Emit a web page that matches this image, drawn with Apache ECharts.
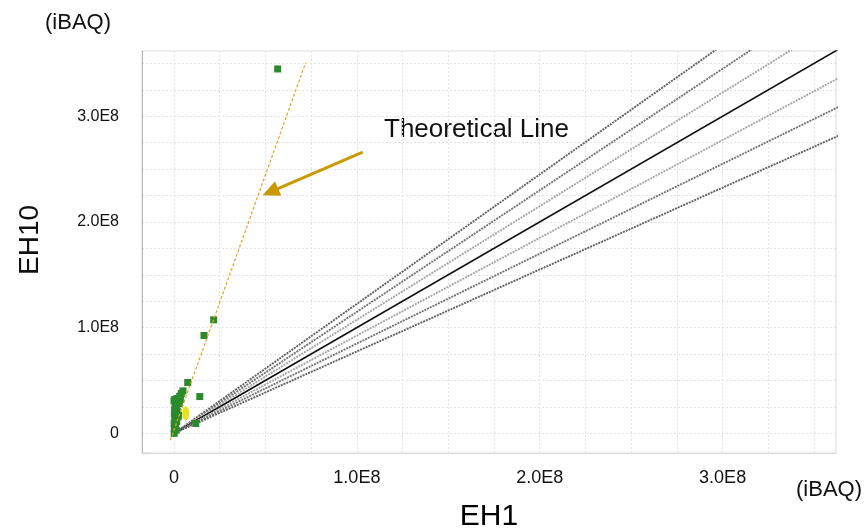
<!DOCTYPE html>
<html>
<head>
<meta charset="utf-8">
<script src="https://cdn.jsdelivr.net/npm/echarts@6/dist/echarts.min.js"></script>
<style>
  html, body { margin: 0; padding: 0; background: #fff; }
  #chart { width: 866px; height: 531px; }
</style>
</head>
<body>
<div id="chart"></div>
<script>
// EH1 vs EH10 (iBAQ) scatter
const proteinPoints = [
  [4.9e6, 4.02e7], [4.0e6, 3.77e7], [3.1e6, 3.51e7], [1.6e6, 3.30e7], [4e5, 3.20e7],
  [0, 3.07e7], [2.2e6, 2.97e7], [1.3e6, 2.66e7], [9e5, 2.44e7], [4e5, 2.25e7],
  [1.3e6, 2.03e7], [2e5, 1.88e7], [2.2e6, 1.55e7], [4e5, 1.24e7], [1e5, 9.3e6],
  [2e5, 4.5e6], [1e5, 0], [3.0e6, 2.8e7], [1.8e6, 2.1e7], [2.5e6, 1.7e7],
  [1.0e6, 1.4e7], [1.5e6, 1.1e7], [8e5, 7e6], [1.2e6, 3e6], [3.5e6, 3.2e7],
  [6e5, 2.6e7], [7.5e6, 4.81e7], [1.41e7, 3.48e7], [1.19e7, 9.3e6],
  [1.64e7, 9.26e7], [2.17e7, 1.074e8], [5.67e7, 3.448e8]
];
const yellowPoints = [[6.4e6, 1.9e7]];
const ratioLines = [1.225, 1.15, 1.075, 1, 0.925, 0.85, 0.775];
const ratioColors = ['#616161', '#747474', '#a6a6a6', '#111111', '#a6a6a6', '#747474', '#616161'];
const theoryLine = [[-2.0e6, -6.5e6], [7.2e7, 3.508e8]];
const arrowFrom = [1.032e8, 2.662e8];
const arrowTo = [5.27e7, 2.285e8];
const gridTicks = [0, 2.5e7, 5e7, 7.5e7, 1e8, 1.25e8, 1.5e8, 1.75e8, 2e8, 2.25e8, 2.5e8, 2.75e8, 3e8, 3.25e8, 3.5e8];
const labelTicks = [0, 1e8, 2e8, 3e8];
const rayEndX = 4e8;

const font = 'Liberation Sans, Arial, sans-serif';

function fmt(v) {
  if (v === 0) return '0';
  return (v / 1e8).toFixed(1) + 'E8';
}

let chart = echarts.init(document.getElementById('chart'), null, { renderer: 'canvas' });

let raySeries = ratioLines.map((r, i) => ({
  name: 'ratio ' + r,
  type: 'line',
  data: [[0, 0], [rayEndX, rayEndX * r]],
  symbol: 'none',
  clip: true,
  silent: true,
  z: 2,
  lineStyle: {
    color: ratioColors[i],
    width: r === 1 ? 1.7 : 1.9,
    type: r === 1 ? 'solid' : [2, 1]
  }
}));

let option = {
  animation: false,
  grid: {
    left: 142, right: 30, top: 51, bottom: 78,
    outerBoundsMode: 'none',
    containLabel: false,
    show: true, borderColor: '#dcdcdc', borderWidth: 1
  },
  xAxis: {
    type: 'value',
    min: -1.75e7,
    max: 3.62e8,
    name: 'EH1',
    nameLocation: 'middle',
    nameGap: 49,
    nameTextStyle: { fontFamily: font, fontSize: 30, color: '#000' },
    axisLine: { onZero: false, lineStyle: { color: '#dcdcdc' } },
    axisTick: { show: false, customValues: gridTicks },
    axisLabel: {
      customValues: labelTicks,
      formatter: fmt,
      margin: 16,
      fontFamily: font, fontSize: 18, color: '#111'
    },
    splitLine: { lineStyle: { color: '#e2e2e2', type: [2, 2] } }
  },
  yAxis: {
    type: 'value',
    min: -1.86e7,
    max: 3.618e8,
    axisLine: { show: true, onZero: false, lineStyle: { color: '#b5b5b5' } },
    axisTick: { show: false, customValues: gridTicks },
    axisLabel: {
      customValues: labelTicks,
      formatter: fmt,
      margin: 23,
      fontFamily: font, fontSize: 16, color: '#111'
    },
    splitLine: { lineStyle: { color: '#e2e2e2', type: [2, 2] } }
  },
  graphic: [
    { type: 'text', left: 45, top: 12, style: { text: '(iBAQ)', font: '22px ' + font, fill: '#111' } },
    { type: 'text', right: 4, top: 479, style: { text: '(iBAQ)', font: '22px ' + font, fill: '#111' } },
    { type: 'text', left: 384, top: 117, style: { text: 'Theoretical Line', font: '26px ' + font, fill: '#111' } },
    {
      type: 'text', x: 30, y: 240, rotation: Math.PI / 2,
      style: { text: 'EH10', font: '28px ' + font, fill: '#111', align: 'center', verticalAlign: 'middle' }
    },
    // short dark piece at the lower-left corner of the frame
    { type: 'line', shape: { x1: 142, y1: 453.5, x2: 151, y2: 453.5 }, style: { stroke: '#777', lineWidth: 1.2 } }
  ],
  series: raySeries.concat([
    {
      name: 'proteins',
      type: 'scatter',
      data: proteinPoints,
      symbol: 'rect',
      symbolSize: 7,
      z: 3,
      itemStyle: { color: '#2b8a2b', opacity: 1 }
    },
    {
      name: 'yellow',
      type: 'scatter',
      data: yellowPoints,
      symbol: 'circle',
      symbolSize: [7, 14],
      z: 4,
      itemStyle: { color: '#e6e21c', opacity: 1 }
    },
    {
      name: 'Theoretical Line',
      type: 'line',
      data: theoryLine,
      symbol: 'none',
      z: 5,
      lineStyle: { color: '#e4a11b', width: 1.2, type: [3, 2] }
    },
    {
      name: 'arrow',
      type: 'line',
      data: [],
      z: 6,
      markLine: {
        silent: true,
        symbol: ['none', 'triangle'],
        symbolSize: [16, 17],
        label: { show: false },
        lineStyle: { color: '#c99a06', width: 3, type: 'solid' },
        data: [[{ coord: arrowFrom }, { coord: arrowTo }]]
      }
    }
  ])
};

chart.setOption(option);
</script>
</body>
</html>
